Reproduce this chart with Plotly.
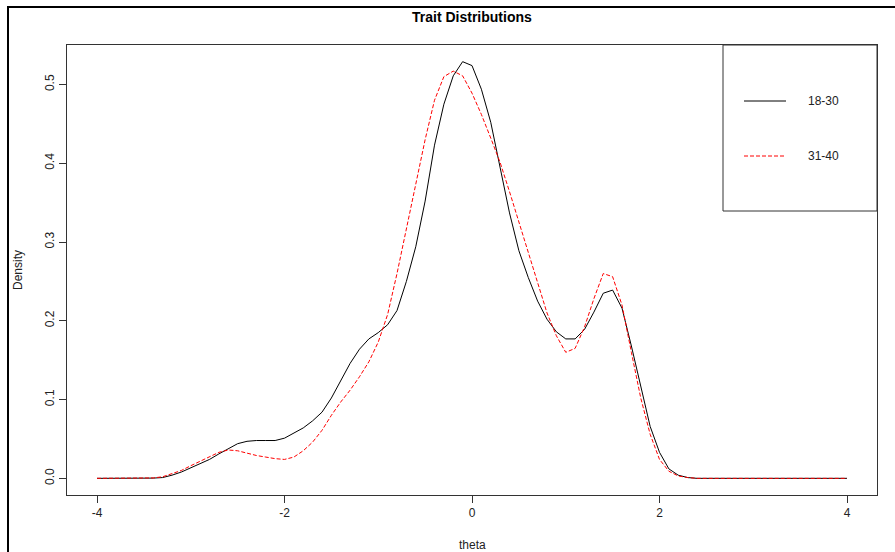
import numpy as np
import plotly.graph_objects as go

# Evaluation grid for the density estimates (theta from -4 to 4, step 0.1)
theta = np.round(np.arange(-40, 41) / 10.0, 1)

# Density of trait scores, age group 18-30
dens_18_30 = [
    0, 0, 0, 0, 0, 0, 0.0003, 0.001, 0.004, 0.008,
    0.013, 0.018, 0.024, 0.031, 0.038, 0.044, 0.047, 0.048, 0.048, 0.048,
    0.051, 0.057, 0.064, 0.073, 0.084, 0.102, 0.124, 0.146, 0.164, 0.177,
    0.185, 0.195, 0.213, 0.250, 0.294, 0.352, 0.423, 0.475, 0.511, 0.529,
    0.524, 0.494, 0.452, 0.396, 0.337, 0.289, 0.255, 0.225, 0.202, 0.186,
    0.177, 0.177, 0.189, 0.211, 0.235, 0.239, 0.216, 0.168, 0.117, 0.066,
    0.033, 0.012, 0.004, 0.001,
    0, 0, 0, 0, 0, 0, 0, 0, 0, 0, 0, 0, 0, 0, 0, 0, 0,
]

# Density of trait scores, age group 31-40
dens_31_40 = [
    0, 0, 0, 0, 0, 0, 0.0005, 0.002, 0.006, 0.010,
    0.016, 0.022, 0.028, 0.033, 0.036, 0.035, 0.032, 0.029, 0.027, 0.025,
    0.024, 0.027, 0.035, 0.046, 0.061, 0.080, 0.097, 0.112, 0.129, 0.148,
    0.173, 0.208, 0.260, 0.316, 0.373, 0.430, 0.480, 0.510, 0.517, 0.511,
    0.489, 0.462, 0.432, 0.401, 0.364, 0.325, 0.287, 0.248, 0.210, 0.181,
    0.160, 0.165, 0.192, 0.228, 0.260, 0.256, 0.220, 0.160, 0.102, 0.056,
    0.024, 0.009, 0.003, 0.001,
    0, 0, 0, 0, 0, 0, 0, 0, 0, 0, 0, 0, 0, 0, 0, 0, 0,
]

group_labels = ["18-30", "31-40"]
x_ticks = [-4, -2, 0, 2, 4]
y_ticks = [0.0, 0.1, 0.2, 0.3, 0.4, 0.5]
y_tick_text = ["0.0", "0.1", "0.2", "0.3", "0.4", "0.5"]

FONT = "Liberation Sans, Arial, Helvetica, sans-serif"
RED_DASH = "4px,2px"

fig = go.Figure()
fig.add_trace(go.Scatter(
    x=theta, y=dens_18_30, mode="lines", name=group_labels[0],
    line=dict(color="black", width=1), showlegend=False,
))
fig.add_trace(go.Scatter(
    x=theta, y=dens_31_40, mode="lines", name=group_labels[1],
    line=dict(color="red", width=1, dash=RED_DASH), showlegend=False,
))

# axis ranges padded by 4% on each side
ymax = max(max(dens_18_30), max(dens_31_40))
xpad = 0.04 * 8
ypad = 0.04 * ymax

fig.update_xaxes(
    range=[-4 - xpad, 4 + xpad], tickvals=x_ticks, ticktext=[str(v) for v in x_ticks],
    showline=True, linecolor="#333", linewidth=1, mirror=True,
    ticks="outside", ticklen=7, tickcolor="#333", tickwidth=1,
    showgrid=False, zeroline=False,
    tickfont=dict(family=FONT, size=12, color="#222"),
)
fig.update_yaxes(
    range=[-ypad, ymax + ypad], tickvals=y_ticks, ticktext=y_tick_text,
    showline=True, linecolor="#333", linewidth=1, mirror=True,
    ticks="outside", ticklen=7, tickcolor="#333", tickwidth=1,
    showgrid=False, zeroline=False, tickangle=-90,
    tickfont=dict(family=FONT, size=12, color="#222"),
)

L, R, T, B = 67, 18, 45, 57
W, H = 895, 552
pw, ph = W - L - R, H - T - B


def px(xp):
    return (xp - L) / pw


def py(yp):
    return (H - B - yp) / ph


shapes = [
    # outer frame of the graphics device
    dict(type="rect", xref="paper", yref="paper",
         x0=px(8), x1=px(905), y0=py(7), y1=py(570),
         line=dict(color="black", width=2), fillcolor="rgba(0,0,0,0)", layer="above"),
    # legend box
    dict(type="rect", xref="paper", yref="paper",
         x0=px(723), x1=1.0, y0=py(211), y1=1.0,
         line=dict(color="#333", width=1), fillcolor="rgba(0,0,0,0)"),
    # legend keys
    dict(type="line", xref="paper", yref="paper",
         x0=px(744), x1=px(786), y0=py(101), y1=py(101),
         line=dict(color="black", width=1)),
    dict(type="line", xref="paper", yref="paper",
         x0=px(744), x1=px(786), y0=py(156), y1=py(156),
         line=dict(color="red", width=1, dash=RED_DASH)),
]

annotations = [
    dict(text="<b>Trait Distributions</b>", xref="paper", yref="paper",
         x=0.5, y=py(17), xanchor="center", yanchor="middle", showarrow=False,
         font=dict(family=FONT, size=14, color="black")),
    dict(text="theta", xref="paper", yref="paper",
         x=0.5, y=py(545), xanchor="center", yanchor="middle", showarrow=False,
         font=dict(family=FONT, size=12, color="#222")),
    dict(text="Density", xref="paper", yref="paper",
         x=px(18), y=0.5, xanchor="center", yanchor="middle", showarrow=False,
         textangle=-90, font=dict(family=FONT, size=12, color="#222")),
    dict(text=group_labels[0], xref="paper", yref="paper",
         x=px(806), y=py(101), xanchor="left", yanchor="middle", showarrow=False,
         font=dict(family=FONT, size=12, color="#222")),
    dict(text=group_labels[1], xref="paper", yref="paper",
         x=px(806), y=py(156), xanchor="left", yanchor="middle", showarrow=False,
         font=dict(family=FONT, size=12, color="#222")),
]

fig.update_layout(
    width=W, height=H,
    margin=dict(l=L, r=R, t=T, b=B, pad=0),
    paper_bgcolor="white", plot_bgcolor="white",
    shapes=shapes, annotations=annotations,
    showlegend=False,
)

fig.write_html("out.html")
